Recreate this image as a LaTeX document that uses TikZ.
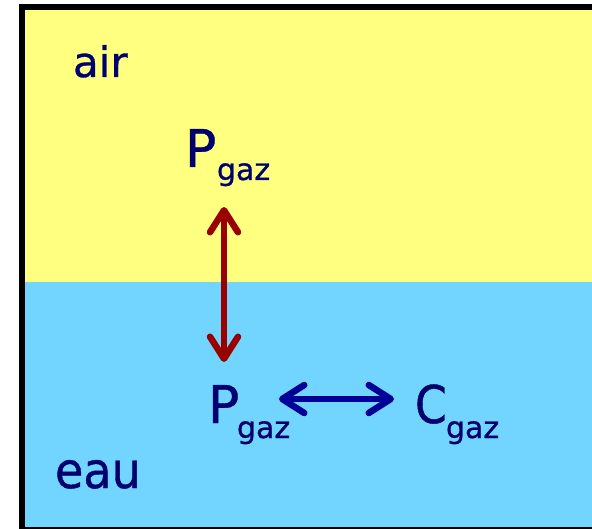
\documentclass[tikz,border=0pt]{standalone}
\usepackage{fontspec}
\setmainfont{DejaVu Sans}[FakeBold=0.8]
\usetikzlibrary{arrows.meta}
\definecolor{bgyellow}{RGB}{255,255,128}
\definecolor{bgblue}{RGB}{114,213,255}
\definecolor{navytext}{RGB}{0,0,110}
\definecolor{arrred}{RGB}{153,0,0}
\definecolor{arrblue}{RGB}{0,0,153}
\begin{document}
\begin{tikzpicture}[x=1pt,y=-1pt,
  lbl/.style={anchor=base west, inner sep=0pt, outer sep=0pt, text=navytext},
  big/.style={font=\fontsize{52}{52}\selectfont},
  sub/.style={font=\fontsize{30}{30}\selectfont},
  barb/.tip={Straight Barb[length=22pt,width=28pt,line width=6.5pt,round]},
  dbl/.style={line width=5.5pt, barb-barb}]
\useasboundingbox (0,0) rectangle (592,529);
\clip (0,0) rectangle (592,529);
% background
\fill[bgyellow] (22,7) rectangle (600,282);
\fill[bgblue] (22,282) rectangle (600,532);
\draw[line width=6pt] (22,7) rectangle (600,530);
% labels
\node[lbl, font=\fontsize{42}{42}\selectfont] (air) at (73,77) {air};
\node[lbl, font=\fontsize{48}{48}\selectfont] (eau) at (55,488) {\scalebox{0.96}[1.04]{eau}};
\node[lbl, big] (Ptop) at (185,167) {P};
\node[lbl, sub] (Ptopsub) at (217,180) {gaz};
\node[lbl, big] (Pbot) at (208,423) {P};
\node[lbl, sub] (Pbotsub) at (237,438) {gaz};
\node[lbl, big] (Cbot) at (415,423) {\scalebox{0.88}[1]{C}};
\node[lbl, sub] (Cbotsub) at (446,438) {gaz};
% arrows
\coordinate (r1) at (224,207);
\coordinate (r2) at (224,362);
\coordinate (b1) at (279,399);
\coordinate (b2) at (394,399);
\draw[dbl, arrred] (r1) -- (r2);
\draw[dbl, arrblue] (b1) -- (b2);
\end{tikzpicture}
\end{document}
